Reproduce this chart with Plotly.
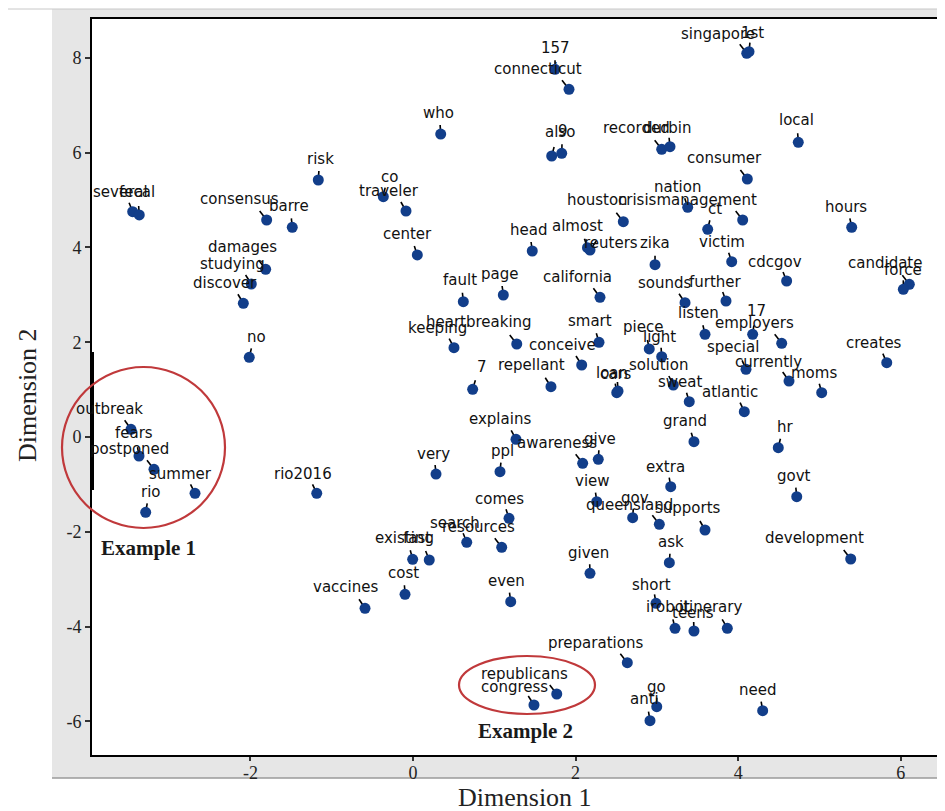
import plotly.graph_objects as go

# ---- data ----
words = ["several", "fecal", "consensus", "barre", "risk", "damages", "studying", "discover", "no",
         "157", "connecticut", "who", "also", "9", "recorded", "durbin", "co", "traveler", "center",
         "head", "almost", "reuters", "zika", "houston", "singapore", "1st", "local", "consumer",
         "nation", "crisismanagement", "ct", "hours", "victim", "cdcgov", "candidate", "force",
         "sounds", "further", "listen", "17", "employers", "piece", "light", "special", "currently",
         "moms", "creates", "solution", "sweat", "grand", "atlantic", "hr", "govt", "development",
         "supports", "fault", "page", "california", "heartbreaking", "keeping", "smart", "conceive",
         "7", "repellant", "loan", "cars", "explains", "ppl", "awareness", "give", "very", "extra",
         "view", "gov", "queensland", "comes", "search", "resources", "existing", "fast", "cost",
         "given", "ask", "even", "short", "irobot", "teens", "itinerary", "preparations",
         "republicans", "congress", "go", "anti", "need", "outbreak", "fears", "postponed",
         "summer", "rio", "rio2016", "vaccines"]

dim1 = [-3.448, -3.367, -1.800, -1.485, -1.165, -1.812, -1.989, -2.087, -2.014,
        1.747, 1.919, 0.341, 1.706, 1.829, 3.059, 3.161, -0.365, -0.086, 0.053,
        1.467, 2.146, 2.177, 2.977, 2.587, 4.105, 4.133, 4.739, 4.112,
        3.379, 4.055, 3.625, 5.396, 3.920, 4.596, 6.105, 6.031,
        3.346, 3.850, 3.592, 4.178, 4.535, 2.906, 3.059, 4.096, 4.625,
        5.027, 5.827, 3.202, 3.398, 3.456, 4.075, 4.493, 4.720, 5.384,
        3.592, 0.619, 1.111, 2.300, 1.276, 0.504, 2.288, 2.075,
        0.734, 1.697, 2.506, 2.522, 1.267, 1.070, 2.087, 2.279, 0.283, 3.170,
        2.260, 2.702, 3.030, 1.181, 0.661, 1.091, -0.004, 0.200, -0.098,
        2.177, 3.153, 1.202, 2.989, 3.223, 3.456, 3.866, 2.636,
        1.768, 1.488, 2.998, 2.915, 4.301, -3.469, -3.370, -3.186,
        -2.681, -3.288, -1.184, -0.590]

dim2 = [4.753, 4.684, 4.578, 4.424, 5.422, 3.538, 3.228, 2.821, 1.681,
        7.757, 7.335, 6.392, 5.928, 5.985, 6.070, 6.124, 5.070, 4.768, 3.840,
        3.924, 3.994, 3.945, 3.635, 4.542, 8.095, 8.129, 6.217, 5.443,
        4.846, 4.578, 4.382, 4.424, 3.698, 3.291, 3.222, 3.116,
        2.833, 2.869, 2.167, 2.167, 1.977, 1.857, 1.694, 1.428, 1.181,
        0.935, 1.568, 1.097, 0.745, -0.099, 0.534, -0.226, -1.259, -2.574,
        -1.962, 2.854, 2.996, 2.947, 1.962, 1.884, 1.998, 1.519,
        1.006, 1.061, 0.935, 0.970, -0.049, -0.732, -0.555, -0.470, -0.781, -1.049,
        -1.365, -1.703, -1.842, -1.715, -2.222, -2.327, -2.580, -2.595, -3.319,
        -2.876, -2.652, -3.475, -3.508, -4.036, -4.093, -4.036, -4.762,
        -5.422, -5.654, -5.690, -5.985, -5.774, 0.162, -0.401, -0.681,
        -1.188, -1.589, -1.188, -3.614]

# label placement relative to each point (pixels, right / down)
label_dx = [-12, -2, -27, -3, 2, -23, -19, -18, 7,
            0, -31, -2, 8, 1, -25, -3, 6, -17, -10,
            -4, -10, 21, 0, -26, -29, 3, -2, -23,
            -10, -55, 7, -6, -10, -12, -24, 0,
            -20, -11, -7, 4, -27, -6, -2, -13, -21,
            -8, -13, -15, -9, -9, -14, 7, -3, -36,
            -17, -3, -4, -22, -38, -16, -9, -19,
            9, -19, -5, -2, -16, 3, -26, 2, -3, -5,
            -4, 2, -30, -10, -12, -23, -8, -12, -2,
            -1, 2, -4, -5, -7, -1, -17, -32,
            -32, -19, 0, -5, -5, -21, -5, -24,
            -15, 5, -14, -20]
label_dy = [-20, -23, -21, -21, -21, -22, -20, -20, -20,
            -21, -20, -21, -24, -22, -21, -19, -20, -20, -21,
            -21, -22, -7, -22, -22, -19, -19, -22, -21,
            -20, -20, -20, -20, -20, -19, -21, -19,
            -20, -19, -21, -23, -20, -22, -20, -22, -19,
            -20, -20, -20, -20, -21, -20, -21, -21, -21,
            -22, -22, -21, -20, -22, -20, -21, -20,
            -22, -22, -20, -17, -20, -21, -20, -20, -20, -20,
            -21, -20, -19, -19, -19, -20, -21, -22, -21,
            -20, -21, -21, -18, -21, -18, -21, -20,
            -20, -18, -20, -22, -21, -20, -23, -20,
            -19, -20, -19, -21]

x_ticks = [-2, 0, 2, 4, 6]
y_ticks = [-6, -4, -2, 0, 2, 4, 6, 8]

# ---- figure (page body adds an 8px offset) ----
OFF = 8
W, H = 945 - OFF, 811 - OFF
PL, PR, PT, PB = 92, 945, 19, 755          # plot area in screen pixels
L, T = PL - OFF, PT - OFF
R = 0
B = H - (PB - OFF)
pw, ph = W - L - R, H - T - B

def px_to_paper_x(px):
    return (px - PL) / pw

def px_to_paper_y(py):
    return (PB - py) / ph

fig = go.Figure()

fig.add_trace(go.Scatter(
    x=dim1, y=dim2, mode="markers",
    marker=dict(size=11, color="#123e8a", line=dict(width=0)),
    cliponaxis=False, hoverinfo="text", text=words, showlegend=False))

shapes = []
GRAY = "#e6e6e6"
# gray panel around the plot area (left strip, top strip, bottom strip)
shapes.append(dict(type="rect", xref="paper", yref="paper",
                   x0=px_to_paper_x(52), x1=px_to_paper_x(PL),
                   y0=px_to_paper_y(778), y1=px_to_paper_y(9),
                   fillcolor=GRAY, line=dict(width=0), layer="below"))
shapes.append(dict(type="rect", xref="paper", yref="paper",
                   x0=px_to_paper_x(PL), x1=px_to_paper_x(945),
                   y0=px_to_paper_y(PT), y1=px_to_paper_y(9),
                   fillcolor=GRAY, line=dict(width=0), layer="below"))
shapes.append(dict(type="rect", xref="paper", yref="paper",
                   x0=px_to_paper_x(PL), x1=px_to_paper_x(945),
                   y0=px_to_paper_y(778), y1=px_to_paper_y(PB),
                   fillcolor=GRAY, line=dict(width=0), layer="below"))
shapes.append(dict(type="line", xref="paper", yref="paper",
                   x0=px_to_paper_x(52), x1=px_to_paper_x(945),
                   y0=px_to_paper_y(778), y1=px_to_paper_y(778),
                   line=dict(color="#9a9a9a", width=1.5), layer="below"))
shapes.append(dict(type="line", xref="paper", yref="paper",
                   x0=px_to_paper_x(8), x1=px_to_paper_x(945),
                   y0=px_to_paper_y(9), y1=px_to_paper_y(9),
                   line=dict(color="#c8c8c8", width=1), layer="below"))
# thick mark on the left axis
shapes.append(dict(type="line", xref="paper", yref="paper",
                   x0=px_to_paper_x(PL), x1=px_to_paper_x(PL),
                   y0=px_to_paper_y(352), y1=px_to_paper_y(490),
                   line=dict(color="black", width=4), layer="above"))

# pins (short sticks from each point toward its label)
for xv, yv, dx in zip(dim1, dim2, label_dx):
    sx = max(-7.0, min(7.0, dx * 0.3))
    shapes.append(dict(type="line", xref="x", yref="y",
                       xsizemode="pixel", ysizemode="pixel",
                       xanchor=xv, yanchor=yv,
                       x0=0, y0=0, x1=sx, y1=9,
                       line=dict(color="black", width=1.6), layer="below"))

# red highlight ellipses
shapes.append(dict(type="circle", xref="paper", yref="paper",
                   x0=px_to_paper_x(62), x1=px_to_paper_x(225),
                   y0=px_to_paper_y(528), y1=px_to_paper_y(367),
                   line=dict(color="#c0393b", width=2.2)))
shapes.append(dict(type="circle", xref="paper", yref="paper",
                   x0=px_to_paper_x(459), x1=px_to_paper_x(595),
                   y0=px_to_paper_y(714), y1=px_to_paper_y(656),
                   line=dict(color="#c0393b", width=2.2)))

annotations = []
for w, xv, yv, dx, dy in zip(words, dim1, dim2, label_dx, label_dy):
    annotations.append(dict(x=xv, y=yv, xref="x", yref="y", text=w, showarrow=False,
                            xshift=dx, yshift=-dy, xanchor="center", yanchor="middle",
                            font=dict(family="DejaVu Sans", size=15, color="#111111")))

def paper_text(px, py, text, size, angle=0, color="#1a1a1a"):
    return dict(x=px_to_paper_x(px), y=px_to_paper_y(py), xref="paper", yref="paper",
                text=text, showarrow=False, textangle=angle,
                xanchor="center", yanchor="middle",
                font=dict(family="Liberation Serif", size=size, color=color))

annotations.append(paper_text(148, 548, "<b>Example 1</b>", 21))
annotations.append(paper_text(525, 731, "<b>Example 2</b>", 21))
annotations.append(paper_text(525, 797, "Dimension 1", 26, color="#222222"))
annotations.append(paper_text(27, 395, "Dimension 2", 26, angle=-90, color="#222222"))

fig.update_layout(
    width=W, height=H,
    margin=dict(l=L, r=R, t=T, b=B, pad=0),
    paper_bgcolor="white", plot_bgcolor="white",
    shapes=shapes, annotations=annotations,
    xaxis=dict(range=[(PL - 413) / 81.3, (PR - 413) / 81.3],
               tickvals=x_ticks, ticktext=[str(v) for v in x_ticks],
               showgrid=False, zeroline=False,
               showline=True, linecolor="black", linewidth=2, mirror=True,
               ticks="outside", ticklen=4, tickcolor="#333", tickwidth=1.5,
               ticklabelstandoff=-4,
               tickfont=dict(family="Liberation Serif", size=18, color="#222")),
    yaxis=dict(range=[(437 - PB) / 47.4, (437 - PT) / 47.4],
               tickvals=y_ticks, ticktext=[str(v) for v in y_ticks],
               showgrid=False, zeroline=False,
               showline=True, linecolor="black", linewidth=2, mirror=False,
               ticks="outside", ticklen=5, tickcolor="#333", tickwidth=1.5,
               tickfont=dict(family="Liberation Serif", size=18, color="#222")),
)

fig.write_html("out.html")
